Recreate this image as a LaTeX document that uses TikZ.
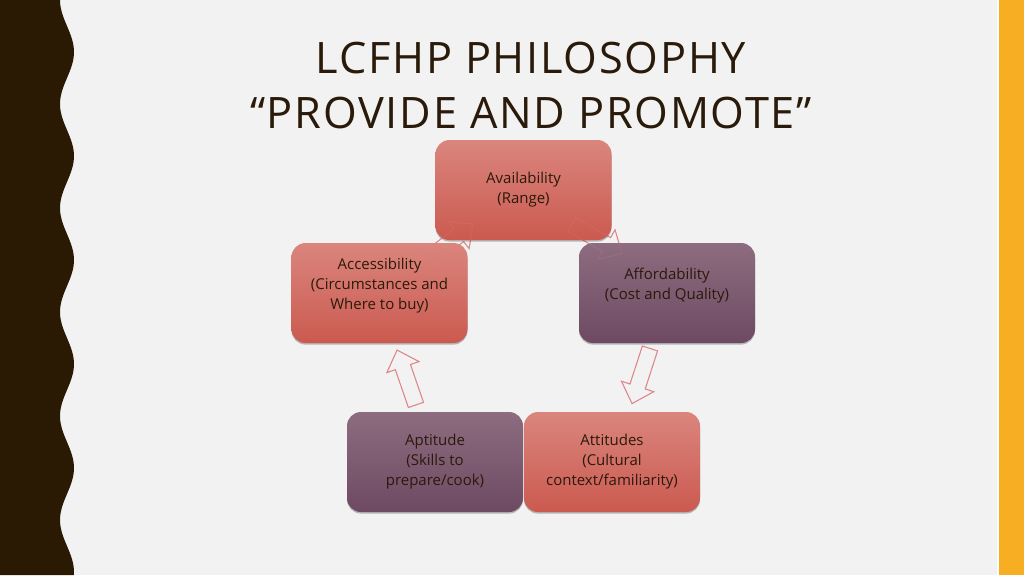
\documentclass[tikz,border=0pt]{standalone}
\usepackage{fontspec}
\setmainfont{Open Sans}
\newfontfamily\titlefont[LetterSpace=4]{Open Sans}
\usetikzlibrary{shadows}

\definecolor{slidebg}{HTML}{F2F2F2}
\definecolor{bandbrown}{HTML}{2A1A04}
\definecolor{stripeorange}{HTML}{F8AE23}
\definecolor{titlebrown}{HTML}{2A1A0A}
\definecolor{redtop}{HTML}{DA857D}
\definecolor{redbottom}{HTML}{CB5A50}
\definecolor{plumtop}{HTML}{8D6C80}
\definecolor{plumbottom}{HTML}{6D4A62}
\definecolor{arrowpink}{HTML}{E08488}

% hollow block arrow: [extra options]{x}{y}{angle}
\newcommand\cyclearrow[4][]{%
  \draw[arrowline,#1,shift={(#2,#3)},rotate=#4]
    (-29,-8) -- (11,-8) -- (11,-17) -- (29,0) -- (11,17) -- (11,8) -- (-29,8) -- cycle;}

\tikzset{
  box/.style={rectangle, rounded corners=10.5pt,
              minimum width=132pt, minimum height=75pt,
              align=center, text=titlebrown,
              font=\fontsize{11.25}{15}\selectfont,
              drop shadow={shadow xshift=0pt, shadow yshift=-1.2pt,
                           opacity=0.25, fill=black}},
  redbox/.style={box, top color=redtop, bottom color=redbottom},
  plumbox/.style={box, top color=plumtop, bottom color=plumbottom},
  arrowline/.style={draw=arrowpink, line width=0.75pt},
  titletext/.style={font=\titlefont\fontsize{32.5}{40}\selectfont,
                    text=titlebrown, inner sep=0pt, anchor=base}
}

\begin{document}
\begin{tikzpicture}[x=0.75pt, y=-0.75pt]

\useasboundingbox (0,0) rectangle (1024,575);
\fill[slidebg] (0,0) rectangle (1024,575);
\fill[bandbrown] (0,0)
    -- plot[domain=0:575, samples=150, variable=\t] ({67-7*cos(3.4615*\t)}, \t)
    -- (0,575) -- cycle;
\fill[white!90!slidebg] (996.5,0) rectangle (999,575);
\fill[stripeorange] (999,0) rectangle (1024,575);

\node[titletext] (title1) at (531,73) {LCFHP PHILOSOPHY};
\node[titletext] (title2) at (531,128) {“PROVIDE AND PROMOTE”};

% arrows behind the boxes
\foreach \px/\py/\ang in {406.5/377.5/109, 641/376/-108, 450/242/38, 597/239/-30}
    \cyclearrow{\px}{\py}{\ang};

\node[redbox]  (avail)  at (523.5,190) {Availability\\(Range)};
\node[redbox]  (access) at (379.5,293) {Accessibility\\(Circumstances and\\Where to buy)\\[-6pt]\strut};
\node[plumbox] (afford) at (667,293)   {Affordability\\(Cost and Quality)\\[-6pt]\strut};
\node[plumbox] (aptit)  at (435,462)   {Aptitude\\(Skills to\\prepare/cook)};
\node[redbox]  (attit)  at (612,462)   {Attitudes\\(Cultural\\context/familiarity)};

% faint outline showing through
\foreach \px/\py/\ang in {406.5/377.5/109, 641/376/-108, 450/242/38, 597/239/-30}
    \cyclearrow[opacity=0.18]{\px}{\py}{\ang};

\end{tikzpicture}
\end{document}
